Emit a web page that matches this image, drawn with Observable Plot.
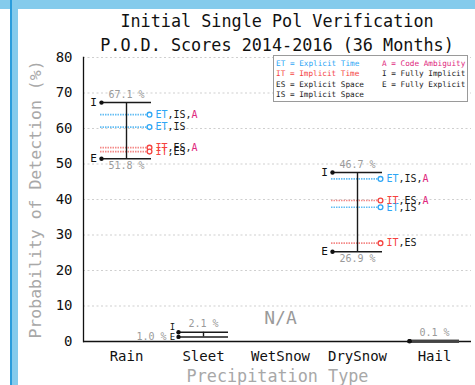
<!DOCTYPE html>
<html>
<head>
<meta charset="utf-8">
<script src="https://cdn.jsdelivr.net/npm/d3@7"></script>
<script src="https://cdn.jsdelivr.net/npm/@observablehq/plot@0.6"></script>
<style>
  html, body { margin: 0; padding: 0; background: #fff; }
  #wrap { position: relative; width: 475px; height: 385px; overflow: hidden; background: #fff; font-family: "DejaVu Sans Mono", monospace; }
  #topband { position: absolute; left: 0; top: 0; width: 475px; height: 9px; background: #84cbec; z-index: 3; }
  #leftband { position: absolute; left: 10px; top: 0; width: 8px; height: 385px; background: #84cbec; border-left: 2px solid #2a9ddc; box-sizing: border-box; z-index: 3; }
  #title { position: relative; margin-left: 83px; width: 388px; height: 52px; padding-top: 9px; box-sizing: border-box; text-align: center; font-size: 16.8px; line-height: 24px; color: #111; white-space: nowrap; z-index: 2; }
  #legend { position: absolute; left: 273px; top: 55px; width: 195px; height: 47px; box-sizing: border-box; border: 1.5px solid #9a9a9a; background: #fff; font-size: 7.7px; line-height: 10.3px; padding: 3px 0 0 2px; z-index: 2; white-space: pre; }
  #legend .row { display: flex; }
  #legend .c1 { width: 106px; }
  #chart { position: relative; z-index: 1; }
</style>
</head>
<body>
<div id="wrap">
  <div id="topband"></div>
  <div id="leftband"></div>
  <div id="title">Initial Single Pol Verification<br>P.O.D. Scores 2014-2016 (36 Months)</div>
  <div id="chart"></div>
  <div id="legend"></div>
</div>
<script>
// ---- data ----
const categories = ["Rain", "Sleet", "WetSnow", "DrySnow", "Hail"];
const implicitVals = [67.3, 2.6, null, 47.6, 0.1];   // "I" = Fully Implicit
const explicitVals = [51.5, 1.3, null, 25.3, 0.1];   // "E" = Fully Explicit
const implicitLabels = ["67.1 %", "2.1 %", "", "46.7 %", "0.1 %"];
const explicitLabels = ["51.8 %", "1.0 %", "", "26.9 %", ""];
const variants = ["ET,IS,A", "ET,IS", "IT,ES,A", "IT,ES"];
const rainVariantVals = [63.9, 60.4, 54.6, 53.5];
const drySnowVariantVals = [45.8, 37.8, 39.7, 27.7];
const yTicks = [0, 10, 20, 30, 40, 50, 60, 70, 80];
const yTitle = "Probability of Detection (%)";
const xTitle = "Precipitation Type";
const naText = "N/A";
const legendLeft = [["ET = Explicit Time", "et"], ["IT = Implicit Time", "it"], ["ES = Explicit Space", "k"], ["IS = Implicit Space", "k"]];
const legendRight = [["A = Code Ambiguity", "a"], ["I = Fully Implicit", "k"], ["E = Fully Explicit", "k"], ["", "k"]];

// ---- colours ----
const BLUE = "#2ea6f5", RED = "#f5433f", MAG = "#e0287e";
const BLUE_LINE = "#63bdf3", RED_LINE = "#f48a88";

// legend
const colorOf = {et: BLUE, it: RED, a: MAG, k: "#1a1a1a"};
const legend = document.getElementById("legend");
legendLeft.forEach((l, i) => {
  const row = document.createElement("div"); row.className = "row";
  const a = document.createElement("span"); a.className = "c1"; a.textContent = l[0]; a.style.color = colorOf[l[1]];
  const b = document.createElement("span"); b.textContent = legendRight[i][0]; b.style.color = colorOf[legendRight[i][1]];
  row.append(a, b); legend.append(row);
});

// ---- tables ----
const ie = categories.flatMap((c, i) => implicitVals[i] == null ? [] : [
  {cat: c, kind: "I", val: implicitVals[i], label: implicitLabels[i]},
  {cat: c, kind: "E", val: explicitVals[i], label: explicitLabels[i]}
]);
const spans = categories.flatMap((c, i) => implicitVals[i] == null ? [] : [{cat: c, lo: explicitVals[i], hi: implicitVals[i]}]);
const variantRows = [
  ...variants.map((v, i) => ({cat: "Rain", v, val: rainVariantVals[i]})),
  ...variants.map((v, i) => ({cat: "DrySnow", v, val: drySnowVariantVals[i]}))
];
const isET = d => d.v.startsWith("ET");
const part1 = d => d.v.slice(0, 2);
const part2 = d => d.v.slice(2, 6);
const part3 = d => d.v.slice(6);

const FONT = "DejaVu Sans Mono";
const CW = 10 * 0.602; // monospace advance at 10px
const textBase = {x: "cat", y: "val", fontSize: 10, textAnchor: "start"};

const chart = Plot.plot({
  width: 475,
  height: 333,
  marginLeft: 83,
  marginRight: 4,
  marginTop: 5,
  marginBottom: 44,
  style: {fontFamily: FONT, background: "transparent", overflow: "visible", color: "#111"},
  x: {type: "band", domain: categories, range: [99, 460], paddingInner: 0.355, paddingOuter: 0, axis: null},
  y: {domain: [0, 80], axis: null},
  marks: [
    Plot.ruleY(yTicks.filter(v => v > 0), {stroke: "#cfcfcf", strokeDasharray: "2,2.5", strokeWidth: 1}),
    Plot.axisY({ticks: yTicks, tickSize: 0, tickPadding: 11, fontSize: 14, label: null}),
    Plot.axisX({tickSize: 0, tickPadding: 10, fontSize: 14, label: null}),
    Plot.text([yTitle], {frameAnchor: "left", dx: -48, rotate: -90, textAnchor: "middle", lineAnchor: "middle", text: d => d, fontSize: 16.5, fill: "#a8a8a8"}),
    Plot.text([xTitle], {frameAnchor: "bottom", dy: 35, textAnchor: "middle", lineAnchor: "middle", text: d => d, fontSize: 16.8, fill: "#a8a8a8"}),
    Plot.frame({anchor: "left", stroke: "#111", strokeWidth: 1.3}),
    Plot.ruleY([0], {stroke: "#111", strokeWidth: 1.3}),
    // variant lines
    Plot.tickY(variantRows, {x: "cat", y: "val", stroke: d => isET(d) ? BLUE_LINE : RED_LINE, strokeWidth: 1.6, strokeDasharray: "1.5,1", insetLeft: -1, insetRight: 3}),
    // I / E connectors and lines
    Plot.ruleX(spans, {x: "cat", y1: "lo", y2: "hi", stroke: "#1a1a1a", strokeWidth: 1.4}),
    Plot.tickY(ie, {x: "cat", y: "val", stroke: d => d.cat === "Hail" ? "#444" : "#1a1a1a", strokeWidth: d => d.cat === "Hail" ? 3 : 1.5}),
    Plot.dot(ie, {x: "cat", y: "val", dx: -25, r: 2.2, fill: "#111", stroke: "none"}),
    Plot.dot(variantRows, {x: "cat", y: "val", dx: 23, r: 2.4, fill: "white", stroke: d => isET(d) ? BLUE : RED, strokeWidth: 1.3}),
    // variant labels (three coloured pieces placed side by side)
    Plot.text(variantRows, {...textBase, dx: 29, text: part1, fill: d => isET(d) ? BLUE : RED}),
    Plot.text(variantRows, {...textBase, dx: 29 + 2 * CW, text: part2, fill: "#1a1a1a"}),
    Plot.text(variantRows.filter(d => d.v.length > 6), {...textBase, dx: 29 + 6 * CW, text: part3, fill: MAG}),
    // percentage labels
    Plot.text(ie.filter(d => d.kind === "I"), {x: "cat", y: "val", text: "label", dy: -8, fontSize: 10, fill: "#9a9a9a"}),
    Plot.text(ie.filter(d => d.kind === "E" && d.cat !== "Sleet" && d.label), {x: "cat", y: "val", text: "label", dy: 7, fontSize: 10, fill: "#9a9a9a"}),
    Plot.text(ie.filter(d => d.kind === "E" && d.cat === "Sleet"), {x: "cat", y: "val", text: "label", dx: -37, textAnchor: "end", fontSize: 10, fill: "#9a9a9a"}),
    // I / E letters
    Plot.text(ie.filter(d => d.cat === "Rain" || d.cat === "DrySnow"), {x: "cat", y: "val", text: "kind", dx: -33, fontSize: 11, fill: "#111"}),
    Plot.text(ie.filter(d => d.cat === "Sleet" && d.kind === "I"), {x: "cat", y: "val", text: "kind", dx: -31, dy: -5, fontSize: 9, fill: "#111"}),
    Plot.text(ie.filter(d => d.cat === "Sleet" && d.kind === "E"), {x: "cat", y: "val", text: "kind", dx: -31, fontSize: 9, fill: "#111"}),
    // N/A
    Plot.text([naText], {x: () => "WetSnow", frameAnchor: "bottom", dy: -18, text: d => d, fontSize: 18, fill: "#9a9a9a"})
  ]
});
document.getElementById("chart").append(chart);
</script>
</body>
</html>
